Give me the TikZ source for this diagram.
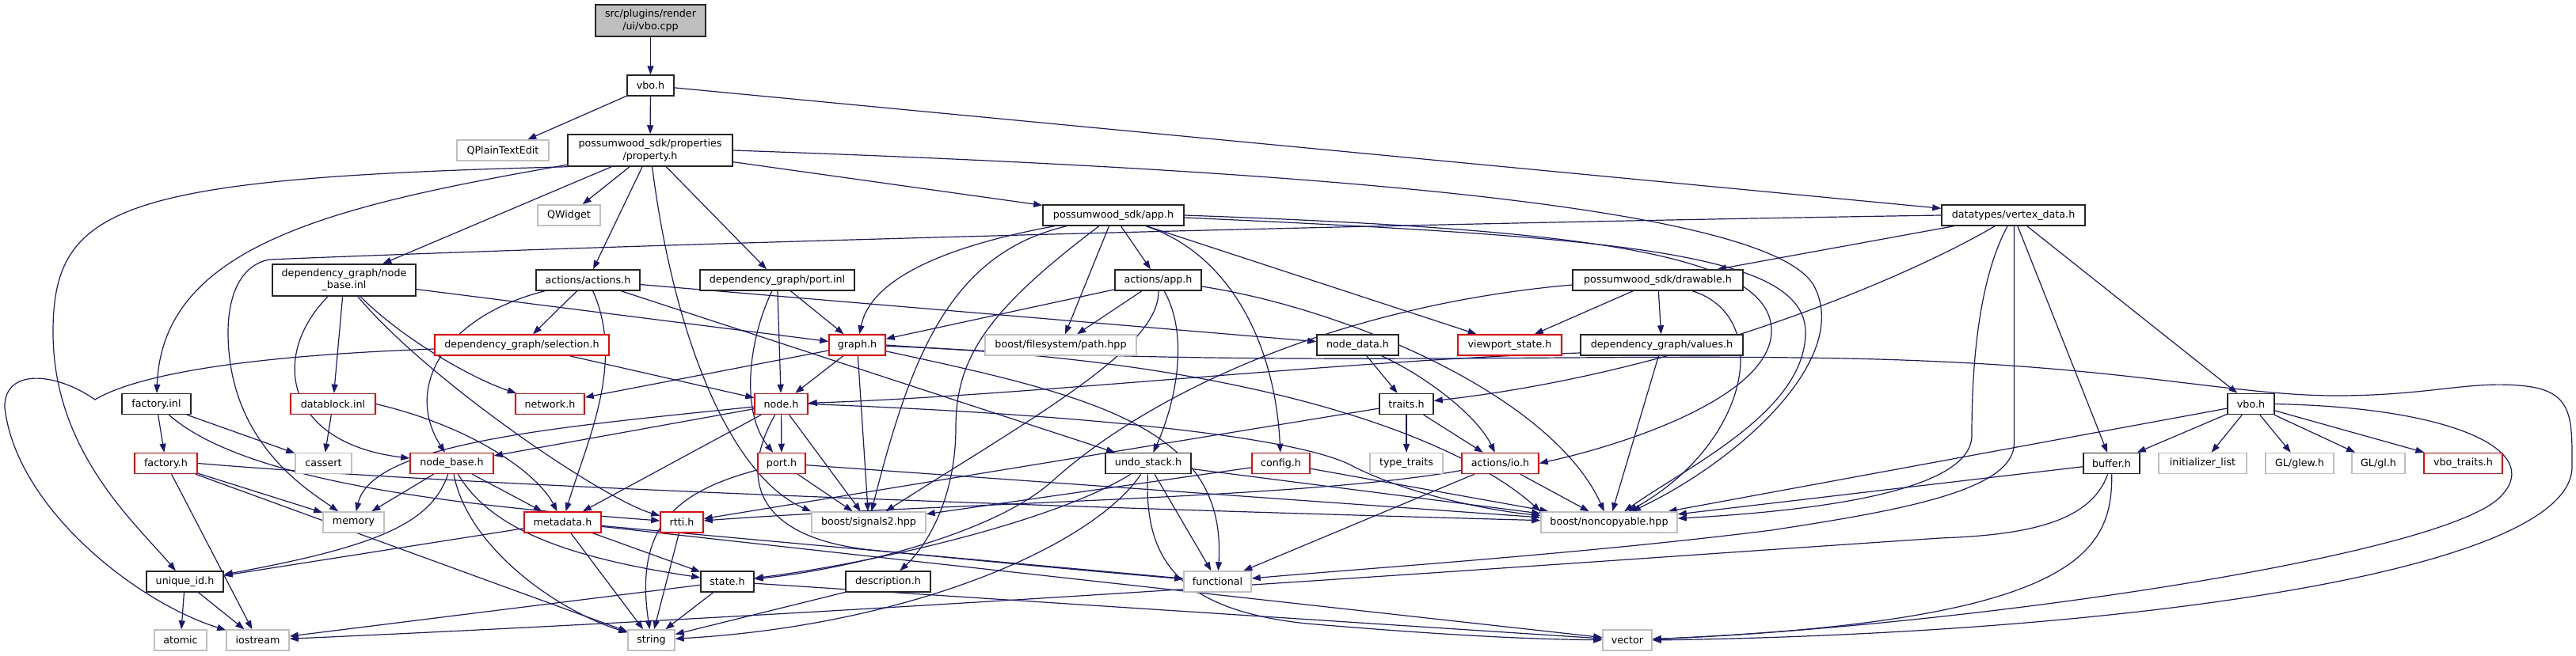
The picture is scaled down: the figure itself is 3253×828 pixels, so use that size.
\documentclass[tikz,border=0pt]{standalone}
\usepackage{fontspec}
\setmainfont{DejaVu Sans}
\usetikzlibrary{arrows.meta}
\definecolor{edgec}{HTML}{191970}
\definecolor{gbord}{HTML}{BFBFBF}
\definecolor{rootfill}{HTML}{BFBFBF}
\definecolor{redb}{HTML}{FF0000}
\pgfdeclarelayer{bg}
\pgfsetlayers{bg,main}
\newcommand{\mkbox}[6]{\node[#1,minimum width=#2pt,minimum height=#3pt] (#4) at (#5) {#6};}
\tikzset{
  base/.style={draw, line width=1.5pt, inner sep=0pt, fill=white, font=\fontsize{12.7}{15.3}\selectfont, align=center},
  bk/.style={base, draw=black!85},
  rd/.style={base, draw=redb},
  gy/.style={base, draw=gbord},
  root/.style={base, fill=rootfill, draw=black!85},
  e/.style={draw=edgec, line width=1.2pt, -{Triangle[length=11pt,width=8pt]}}
}
\begin{document}
\begin{tikzpicture}[x=1pt,y=-1pt]
\useasboundingbox (0,0) rectangle (3253,828);
\mkbox{root}{139}{40}{cpp}{821.5,26}{src/plugins/render\\/ui/vbo.cpp}
\mkbox{bk}{59}{26}{vboh}{821.5,108}{vbo.h}
\mkbox{gy}{116}{26}{qpte}{635,190}{QPlainTextEdit}
\mkbox{bk}{208}{40}{prop}{821,190}{possumwood\_sdk/properties\\/property.h}
\mkbox{gy}{79}{26}{qw}{718.5,272}{QWidget}
\mkbox{bk}{178}{26}{app}{1406,272}{possumwood\_sdk/app.h}
\mkbox{bk}{181}{26}{vd}{2542.5,272}{datatypes/vertex\_data.h}
\mkbox{bk}{181}{40}{nbi}{434.5,354}{dependency\_graph/node\\\_base.inl}
\mkbox{bk}{131}{26}{acts}{742.5,354}{actions/actions.h}
\mkbox{bk}{195}{26}{pinl}{981.5,354}{dependency\_graph/port.inl}
\mkbox{bk}{109}{26}{aapp}{1462.5,354}{actions/app.h}
\mkbox{bk}{215}{26}{draw}{2093.5,354}{possumwood\_sdk/drawable.h}
\mkbox{rd}{220}{26}{sel}{659,436}{dependency\_graph/selection.h}
\mkbox{rd}{71}{26}{graph}{1082.5,436}{graph.h}
\mkbox{gy}{191}{26}{path}{1339.5,436}{boost/filesystem/path.hpp}
\mkbox{bk}{103}{26}{nd}{1714.5,436}{node\_data.h}
\mkbox{rd}{131}{26}{vs}{1906.5,436}{viewport\_state.h}
\mkbox{bk}{205}{26}{val}{2098.5,436}{dependency\_graph/values.h}
\mkbox{bk}{87}{26}{finl}{197.5,510.5}{factory.inl}
\mkbox{rd}{107}{26}{dbi}{420.5,510.5}{datablock.inl}
\mkbox{rd}{87}{26}{net}{694.5,510.5}{network.h}
\mkbox{rd}{67}{26}{node}{986.5,510.5}{node.h}
\mkbox{bk}{68}{26}{traits}{1776,510.5}{traits.h}
\mkbox{bk}{59}{26}{vbo2}{2842.5,510.5}{vbo.h}
\mkbox{rd}{79}{26}{fh}{209.5,585.5}{factory.h}
\mkbox{gy}{71}{26}{cass}{408.5,585.5}{cassert}
\mkbox{rd}{105}{26}{nb}{570.5,585.5}{node\_base.h}
\mkbox{rd}{60}{26}{port}{987,585.5}{port.h}
\mkbox{bk}{108}{26}{undo}{1450,585.5}{undo\_stack.h}
\mkbox{rd}{73}{26}{conf}{1617.5,585.5}{config.h}
\mkbox{gy}{92}{26}{tt}{1776,585.5}{type\_traits}
\mkbox{rd}{97}{26}{io}{1894.5,585.5}{actions/io.h}
\mkbox{bk}{71}{26}{buf}{2666.5,585.5}{buffer.h}
\mkbox{gy}{111}{26}{il}{2781.5,585.5}{initializer\_list}
\mkbox{gy}{86}{26}{glew}{2904,585.5}{GL/glew.h}
\mkbox{gy}{67}{26}{gl}{3003.5,585.5}{GL/gl.h}
\mkbox{rd}{99}{26}{vt}{3110.5,585.5}{vbo\_traits.h}
\mkbox{gy}{77}{26}{mem}{446.5,660}{memory}
\mkbox{rd}{97}{26}{meta}{710.5,660}{metadata.h}
\mkbox{rd}{54}{26}{rtti}{861,660}{rtti.h}
\mkbox{gy}{144}{26}{sig}{1097,660}{boost/signals2.hpp}
\mkbox{gy}{172}{26}{nc}{2032,660}{boost/noncopyable.hpp}
\mkbox{bk}{97}{26}{uid}{233.5,735}{unique\_id.h}
\mkbox{bk}{67}{26}{state}{918.5,735}{state.h}
\mkbox{bk}{107}{26}{desc}{1121.5,735}{description.h}
\mkbox{gy}{85}{26}{func}{1537.5,735}{functional}
\mkbox{gy}{66}{26}{atomic}{228,809}{atomic}
\mkbox{gy}{79}{26}{ios}{325.5,809}{iostream}
\mkbox{gy}{59}{26}{str}{822.5,809}{string}
\mkbox{gy}{62}{26}{vec}{2055,809}{vector}
\begin{pgfonlayer}{bg}
\draw[e] (cpp) -- (vboh);
\draw[e] (vboh) -- (qpte);
\draw[e] (vboh) -- (prop);
\draw[e] (vboh) -- (vd);
\draw[e] (prop) -- (qw);
\draw[e] (prop) -- (app);
\draw[e] (prop) -- (nbi);
\draw[e] (prop) -- (acts);
\draw[e] (prop) -- (pinl);
\draw[e] (prop.south west) .. controls (150,225) and (67,260) .. (67,420) .. controls (67,570) and (170,660) .. (uid);
\draw[e] (prop) .. controls (420,260) and (205,310) .. (finl);
\draw[e] (prop) .. controls (850,420) and (920,600) .. (sig.north west);
\draw[e] (prop.east) .. controls (1650,215) and (2230,260) .. (2290,360) .. controls (2340,450) and (2200,580) .. (nc);
\draw[e] (nbi) .. controls (340,450) and (360,560) .. (nb);
\draw[e] (nbi) -- (dbi);
\draw[e] (nbi) .. controls (540,480) and (760,630) .. (rtti);
\draw[e] (nbi) .. controls (510,430) and (600,480) .. (net);
\draw[e] (nbi) -- (graph);
\draw[e] (acts) .. controls (560,400) and (510,490) .. (nb);
\draw[e] (acts) -- (sel);
\draw[e] (acts) .. controls (790,460) and (740,560) .. (meta);
\draw[e] (acts) -- (undo);
\draw[e] (acts) -- (nd);
\draw[e] (pinl) .. controls (945,430) and (935,520) .. (port);
\draw[e] (pinl) -- (node);
\draw[e] (pinl) -- (graph);
\draw[e] (app) .. controls (1200,310) and (1100,350) .. (graph);
\draw[e] (app) .. controls (1200,320) and (1150,450) .. (sig);
\draw[e] (app) .. controls (1250,390) and (1207,450) .. (1207,540) .. controls (1207,630) and (1170,690) .. (desc);
\draw[e] (app) -- (path);
\draw[e] (app) -- (aapp);
\draw[e] (app) .. controls (1550,320) and (1610,430) .. (conf);
\draw[e] (app) -- (vs);
\draw[e] (app.east) .. controls (2000,290) and (2240,320) .. (2237,420) .. controls (2234,500) and (2060,560) .. (io.east);
\draw[e] ([yshift=-3pt]app.east) .. controls (2050,300) and (2280,320) .. (2280,420) .. controls (2280,520) and (2130,590) .. (nc);
\draw[e] (aapp) -- (graph);
\draw[e] (aapp) -- (path);
\draw[e] (aapp) .. controls (1465,440) and (1300,530) .. (sig);
\draw[e] (aapp) .. controls (1505,430) and (1480,520) .. (undo);
\draw[e] ([yshift=-8pt]aapp.east) .. controls (1700,390) and (1960,500) .. (nc);
\draw[e] (vd.west) .. controls (1800,282) and (900,305) .. (340,328) .. controls (300,336) and (288,380) .. (288,420) .. controls (288,560) and (390,620) .. (mem);
\draw[e] (vd) -- (draw);
\draw[e] (vd) .. controls (2410,350) and (2130,470) .. (traits);
\draw[e] (vd) .. controls (2495,360) and (2490,480) .. (2490,550) .. controls (2490,620) and (2300,645) .. (nc);
\draw[e] ([xshift=1pt]vd.south) -- (2543.5,560) .. controls (2543.5,620) and (2400,645) .. (2237,670) .. controls (2000,700) and (1700,720) .. (func);
\draw[e] (vd) -- (buf);
\draw[e] (vd) -- (vbo2);
\draw[e] ([yshift=-6pt]draw.west) .. controls (1700,385) and (1460,490) .. (1330,607) .. controls (1250,680) and (1050,722) .. (state);
\draw[e] (draw) -- (vs);
\draw[e] (draw) -- (val);
\draw[e] (draw) .. controls (2240,400) and (2210,560) .. (nc);
\draw[e] ([yshift=-10pt]val.west) .. controls (1700,455) and (1300,500) .. (node);
\draw[e] (val) -- (nc);
\draw[e] ([yshift=-5pt]sel.west) .. controls (300,450) and (170,475) .. (120,505) .. controls (70,470) and (5,465) .. (6,515) .. controls (20,640) and (170,760) .. (ios);
\draw[e] (sel) -- (node);
\draw[e] (graph) -- (net);
\draw[e] (graph) -- (node);
\draw[e] (graph) -- (sig);
\draw[e] (graph.east) .. controls (1600,470) and (2100,440) .. (2450,457) .. controls (2700,468) and (2830,500) .. (2950,500) .. controls (3070,500) and (3120,480) .. (3190,488) .. controls (3250,495) and (3248,530) .. (3248,590) .. controls (3248,720) and (2700,800) .. (vec.east);
\draw[e] (graph) .. controls (1380,500) and (1550,540) .. (func);
\draw[e] (graph) .. controls (1600,455) and (1850,560) .. (nc.north west);
\draw[e] (finl) -- (fh);
\draw[e] (finl) -- (cass);
\draw[e] (finl) .. controls (300,600) and (520,635) .. (rtti);
\draw[e] (dbi) -- (cass);
\draw[e] (dbi.east) .. controls (600,540) and (680,600) .. (meta);
\draw[e] (node) .. controls (700,540) and (470,560) .. (mem);
\draw[e] (node) -- (nb);
\draw[e] (node) -- (meta);
\draw[e] (node) -- (port);
\draw[e] (node) -- (sig);
\draw[e] (node) .. controls (930,610) and (960,680) .. (1100,695) .. controls (1300,715) and (1450,728) .. (func);
\draw[e] (node.east) .. controls (1400,525) and (1650,555) .. (1710,590) .. controls (1780,625) and (1880,645) .. (nc);
\draw[e] (fh.east) .. controls (600,615) and (1300,640) .. (nc);
\draw[e] (fh) -- (mem);
\draw[e] (fh) -- (ios);
\draw[e] (fh) -- (str);
\draw[e] (nb) -- (mem);
\draw[e] (nb) .. controls (545,660) and (480,690) .. (uid);
\draw[e] (nb) .. controls (590,690) and (700,770) .. (str);
\draw[e] (nb) .. controls (620,670) and (720,705) .. (state);
\draw[e] (nb) -- (meta);
\draw[e] (port) .. controls (860,620) and (800,660) .. (str);
\draw[e] (port) -- (sig);
\draw[e] (port) -- (nc);
\draw[e] (undo) .. controls (1330,660) and (1100,712) .. (state);
\draw[e] (undo) .. controls (1380,690) and (1150,790) .. (str);
\draw[e] (undo) .. controls (1445,700) and (1480,770) .. (1650,788) .. controls (1850,805) and (1950,808) .. (vec);
\draw[e] (undo) -- (func);
\draw[e] (undo) -- (nc);
\draw[e] (conf) -- (sig);
\draw[e] (conf) -- (nc);
\draw[e] (io) .. controls (1650,630) and (1200,635) .. (rtti);
\draw[e] (io) -- (func);
\draw[e] (io) -- (nc);
\draw[e] (traits) -- (tt);
\draw[e] (traits) -- (io);
\draw[e] (traits) -- (rtti);
\draw[e] (nd) -- (traits);
\draw[e] (nd) .. controls (1800,475) and (1865,525) .. (io);
\draw[e] (desc) -- (str);
\draw[e] (state) -- (ios);
\draw[e] (state) -- (str);
\draw[e] (state) -- (vec);
\draw[e] (meta) -- (uid);
\draw[e] (meta) -- (str);
\draw[e] (meta) -- (state);
\draw[e] (meta) -- (func);
\draw[e] (meta) -- (vec);
\draw[e] (rtti) -- (str);
\draw[e] (uid) -- (atomic);
\draw[e] (uid) -- (ios);
\draw[e] (vbo2) -- (buf);
\draw[e] (vbo2) -- (il);
\draw[e] (vbo2) -- (glew);
\draw[e] (vbo2) -- (gl);
\draw[e] (vbo2) -- (vt);
\draw[e] (vbo2) -- (nc);
\draw[e] (vbo2.east) .. controls (3100,515) and (3210,570) .. (3160,625) .. controls (3100,700) and (2500,790) .. (vec);
\draw[e] (buf) -- (nc);
\draw[e] (buf) .. controls (2640,660) and (2560,676) .. (2450,680) .. controls (2000,710) and (1200,770) .. (ios);
\draw[e] (buf) .. controls (2668,700) and (2620,785) .. (vec);
\end{pgfonlayer}
\end{tikzpicture}
\end{document}
